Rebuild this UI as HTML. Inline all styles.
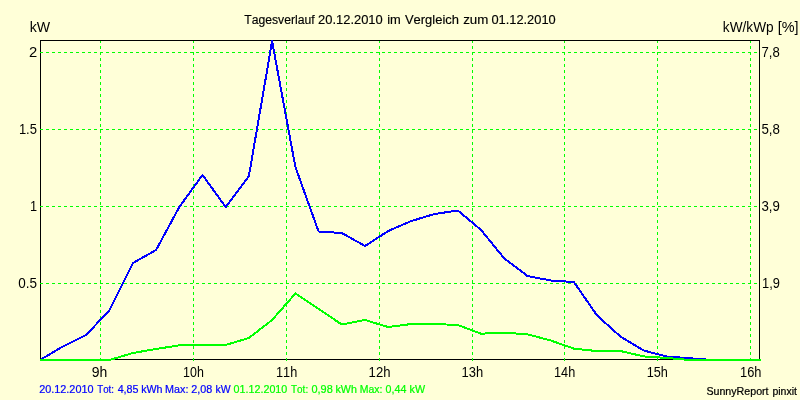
<!DOCTYPE html>
<html lang="de">
<head>
<meta charset="utf-8">
<title>Tagesverlauf 20.12.2010 im Vergleich zum 01.12.2010</title>
<style>
html,body{margin:0;padding:0;background:#ffffd8;}
body{width:800px;height:400px;overflow:hidden;}
svg{display:block;}
text{font-family:"Liberation Sans",Arial,sans-serif;fill:#000;font-kerning:none;white-space:pre;}
.grid line{stroke:#00ff00;stroke-width:1;stroke-dasharray:3 3;}
.axis line{stroke:#000;stroke-width:1;}
.ser{fill:none;stroke-width:2;stroke-linejoin:round;stroke-linecap:butt;}
</style>
</head>
<body>
<svg width="800" height="400" viewBox="0 0 800 400">
<rect x="0" y="0" width="800" height="400" fill="#ffffd8"/>
<g class="axis" shape-rendering="crispEdges">
<line x1="40" y1="359.5" x2="760" y2="359.5"/>
<line x1="40.5" y1="40" x2="40.5" y2="360"/>
<line x1="759.5" y1="40" x2="759.5" y2="360"/>
</g>
<g class="grid" shape-rendering="crispEdges">
<line x1="40" y1="52.5" x2="760" y2="52.5"/>
<line x1="40" y1="129.5" x2="760" y2="129.5"/>
<line x1="40" y1="206.5" x2="760" y2="206.5"/>
<line x1="40" y1="283.5" x2="760" y2="283.5"/>
<line x1="100.5" y1="40" x2="100.5" y2="361"/>
<line x1="193.5" y1="40" x2="193.5" y2="361"/>
<line x1="286.5" y1="40" x2="286.5" y2="361"/>
<line x1="379.5" y1="40" x2="379.5" y2="361"/>
<line x1="472.5" y1="40" x2="472.5" y2="361"/>
<line x1="564.5" y1="40" x2="564.5" y2="361"/>
<line x1="657.5" y1="40" x2="657.5" y2="361"/>
<line x1="750.5" y1="40" x2="750.5" y2="361"/>
</g>
<g class="axis" shape-rendering="crispEdges"><line x1="40" y1="40.5" x2="760" y2="40.5"/></g>
<polyline class="ser" shape-rendering="crispEdges" stroke="#0000ff" points="40.0,360.0 63.2,346.3 86.4,334.7 109.6,310.0 132.9,263.0 156.1,250.0 179.3,207.0 202.5,175.0 225.7,207.0 248.9,176.0 272.1,41.2 295.4,167.0 318.6,231.5 341.8,233.0 365.0,246.0 388.2,231.0 411.4,221.0 434.6,214.0 457.9,210.5 481.1,230.0 504.3,258.5 527.5,276.0 550.7,280.5 573.9,282.0 597.1,315.5 620.4,336.5 643.6,350.5 666.8,356.5 690.0,358.3 713.2,360.0 736.4,360.0 761.0,360.0"/>
<polyline class="ser" shape-rendering="crispEdges" stroke="#00ff00" points="40.0,360.0 63.2,360.0 86.4,360.0 109.6,360.0 132.9,353.0 156.1,349.0 179.3,345.3 202.5,345.0 225.7,345.0 248.9,338.0 272.1,320.0 295.4,293.5 318.6,309.0 341.8,324.5 365.0,320.0 388.2,327.0 411.4,324.0 434.6,324.0 457.9,325.0 481.1,333.7 504.3,332.7 527.5,334.3 550.7,340.5 573.9,348.6 597.1,351.1 620.4,351.0 643.6,356.4 666.8,358.0 690.0,360.0 713.2,360.0 736.4,360.0 761.0,360.0"/>
<text y="24" font-size="12" style="stroke:#000;stroke-width:0.15"><tspan x="244.23" textLength="70.46" lengthAdjust="spacingAndGlyphs">Tagesverlauf</tspan> <tspan x="318.10" textLength="64.65" lengthAdjust="spacingAndGlyphs">20.12.2010</tspan> <tspan x="387.24" textLength="13.61" lengthAdjust="spacingAndGlyphs">im</tspan> <tspan x="404.94" textLength="54.00" lengthAdjust="spacingAndGlyphs">Vergleich</tspan> <tspan x="463.21" textLength="25.17" lengthAdjust="spacingAndGlyphs">zum</tspan> <tspan x="491.40" textLength="64.30" lengthAdjust="spacingAndGlyphs">01.12.2010</tspan></text>
<text y="32" font-size="14"><tspan x="29.65" textLength="20.40" lengthAdjust="spacingAndGlyphs">kW</tspan></text>
<text y="32" font-size="14"><tspan x="722.83" textLength="50.84" lengthAdjust="spacingAndGlyphs">kW/kWp</tspan> <tspan x="777.72" textLength="20.80" lengthAdjust="spacingAndGlyphs">[%]</tspan></text>
<text y="57" font-size="14"><tspan x="29.00" textLength="8.24" lengthAdjust="spacingAndGlyphs">2</tspan></text>
<text y="134" font-size="14"><tspan x="18.91" textLength="18.03" lengthAdjust="spacingAndGlyphs">1.5</tspan></text>
<text y="211" font-size="14"><tspan x="30.03" textLength="7.09" lengthAdjust="spacingAndGlyphs">1</tspan></text>
<text y="288" font-size="14"><tspan x="18.22" textLength="18.74" lengthAdjust="spacingAndGlyphs">0.5</tspan></text>
<text y="57" font-size="14"><tspan x="761.53" textLength="18.24" lengthAdjust="spacingAndGlyphs">7,8</tspan></text>
<text y="134" font-size="14"><tspan x="761.47" textLength="18.51" lengthAdjust="spacingAndGlyphs">5,8</tspan></text>
<text y="211" font-size="14"><tspan x="761.49" textLength="18.43" lengthAdjust="spacingAndGlyphs">3,9</tspan></text>
<text y="288" font-size="14"><tspan x="762.02" textLength="17.89" lengthAdjust="spacingAndGlyphs">1,9</tspan></text>
<text y="377" font-size="14"><tspan x="91.74" textLength="15.56" lengthAdjust="spacingAndGlyphs">9h</tspan></text>
<text y="377" font-size="14"><tspan x="183.05" textLength="20.76" lengthAdjust="spacingAndGlyphs">10h</tspan></text>
<text y="377" font-size="14"><tspan x="276.03" textLength="21.19" lengthAdjust="spacingAndGlyphs">11h</tspan></text>
<text y="377" font-size="14"><tspan x="368.60" textLength="21.85" lengthAdjust="spacingAndGlyphs">12h</tspan></text>
<text y="377" font-size="14"><tspan x="461.61" textLength="21.63" lengthAdjust="spacingAndGlyphs">13h</tspan></text>
<text y="377" font-size="14"><tspan x="554.03" textLength="21.19" lengthAdjust="spacingAndGlyphs">14h</tspan></text>
<text y="377" font-size="14"><tspan x="646.63" textLength="21.19" lengthAdjust="spacingAndGlyphs">15h</tspan></text>
<text y="377" font-size="14"><tspan x="740.02" textLength="21.41" lengthAdjust="spacingAndGlyphs">16h</tspan></text>
<text y="393" font-size="10.9" style="fill:#0000ff;stroke:#0000ff;stroke-width:0.22"><tspan x="39.20" textLength="54.32" lengthAdjust="spacingAndGlyphs">20.12.2010</tspan> <tspan x="97.28" textLength="16.70" lengthAdjust="spacingAndGlyphs">Tot:</tspan> <tspan x="117.65" textLength="20.90" lengthAdjust="spacingAndGlyphs">4,85</tspan> <tspan x="141.18" textLength="21.42" lengthAdjust="spacingAndGlyphs">kWh</tspan> <tspan x="165.12" textLength="23.37" lengthAdjust="spacingAndGlyphs">Max:</tspan> <tspan x="191.36" textLength="21.01" lengthAdjust="spacingAndGlyphs">2,08</tspan> <tspan x="215.55" textLength="15.09" lengthAdjust="spacingAndGlyphs">kW</tspan></text>
<text y="393" font-size="10.9" style="fill:#00ff00;stroke:#00ff00;stroke-width:0.22"><tspan x="233.58" textLength="53.74" lengthAdjust="spacingAndGlyphs">01.12.2010</tspan> <tspan x="291.03" textLength="17.13" lengthAdjust="spacingAndGlyphs">Tot:</tspan> <tspan x="311.47" textLength="21.25" lengthAdjust="spacingAndGlyphs">0,98</tspan> <tspan x="335.53" textLength="21.42" lengthAdjust="spacingAndGlyphs">kWh</tspan> <tspan x="359.74" textLength="22.72" lengthAdjust="spacingAndGlyphs">Max:</tspan> <tspan x="385.58" textLength="20.73" lengthAdjust="spacingAndGlyphs">0,44</tspan> <tspan x="409.53" textLength="15.51" lengthAdjust="spacingAndGlyphs">kW</tspan></text>
<text y="395" font-size="10.9" style="stroke:#000;stroke-width:0.22"><tspan x="706.42" textLength="62.16" lengthAdjust="spacingAndGlyphs">SunnyReport</tspan> <tspan x="772.42" textLength="24.55" lengthAdjust="spacingAndGlyphs">pinxit</tspan></text>
</svg>
</body>
</html>
